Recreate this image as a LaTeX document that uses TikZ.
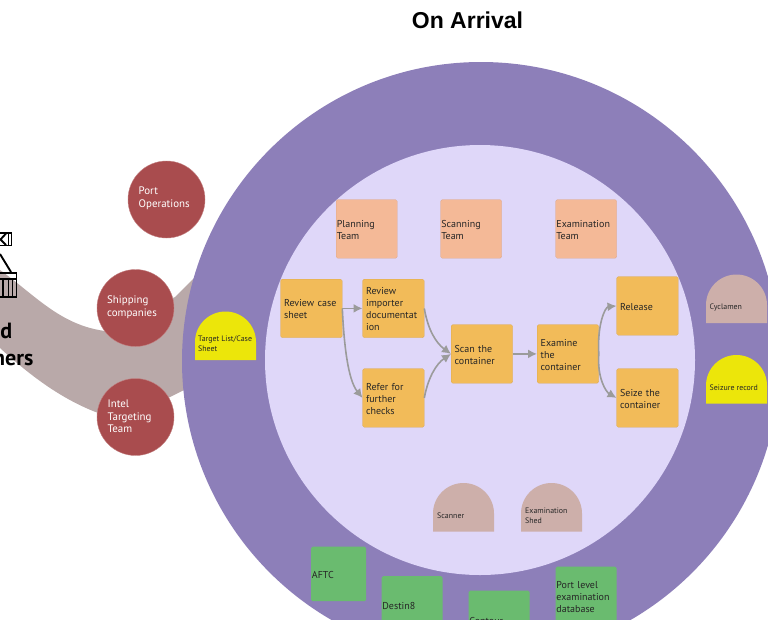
\documentclass[tikz,border=0pt]{standalone}
\usepackage{fontspec}
\setmainfont{PT Sans}
\newfontfamily\titlefont{Liberation Sans}
\usetikzlibrary{arrows.meta}
\definecolor{outerc}{HTML}{8D7FB9}
\definecolor{innerc}{HTML}{DFD7F9}
\definecolor{teamc}{HTML}{F4B997}
\definecolor{stepc}{HTML}{F2BB59}
\definecolor{greenc}{HTML}{6ABB6F}
\definecolor{redcc}{HTML}{A94C4E}
\definecolor{bandc}{HTML}{B9A9A9}
\definecolor{domec}{HTML}{CDAFAA}
\definecolor{yellowc}{HTML}{ECE60A}
\definecolor{arrowc}{HTML}{9B9B9B}
\newcommand{\domeshape}[3]{% left, top, colour (61 wide, 48.5 high)
  \fill[#3] (#1,#2+48.5) -- (#1,#2+30.5) arc[start angle=180,end angle=360,radius=30.5] -- (#1+61,#2+48.5) -- cycle;}
\begin{document}
\begin{tikzpicture}[x=1pt,y=-1pt,
  boxtext/.style={font=\fontsize{10}{12}\selectfont,text=black!85,align=left,anchor=north west,minimum width=61pt,minimum height=58.5pt,text width=54.5pt,inner xsep=3.5pt,inner ysep=0pt,rounded corners=1.5pt,execute at begin node={\rule{0pt}{8.8pt}}},
  teambox/.style={boxtext,fill=teamc,draw=teamc!90!black,line width=.3pt,text width=59.5pt,inner xsep=.75pt},
  stepbox/.style={boxtext,fill=stepc,draw=stepc!90!black,line width=.3pt},
  greenbox/.style={boxtext,fill=greenc,text width=59.5pt,inner xsep=.5pt},
  redcirc/.style={circle,fill=redcc,draw=redcc!70!white,line width=.4pt,minimum size=77pt,inner sep=0pt},
  wt/.style={text=white,font=\fontsize{10.9}{12.6}\selectfont,align=left,anchor=west,inner sep=0pt},
  small/.style={text=black!85,font=\fontsize{7.9}{9.6}\selectfont,align=left,anchor=west,inner sep=0pt},
  flow/.style={draw=arrowc,line width=1.6pt,-{Latex[length=9pt,width=9pt]}},
  bigtext/.style={font=\fontsize{22}{26}\selectfont\bfseries,text=black,anchor=east,inner sep=0pt},
  iconline/.style={draw=black,line width=1.9pt}
]
\useasboundingbox (0,0) rectangle (768,619);
\begin{scope}
\clip (0,0) rectangle (768,619);
% band
\fill[bandc] (0,270) .. controls (35,295) and (60,325) .. (105,331)
  -- (175,297) -- (200,272) -- (200,382) -- (170,397) -- (125,421)
  .. controls (75,410) and (35,380) .. (0,348) -- cycle;
\node[circle,fill=outerc,minimum size=598pt,inner sep=0pt] (outer) at (481,361) {};
\node[circle,fill=innerc,minimum size=430pt,inner sep=0pt] (inner) at (480,360) {};

% title
\node[font=\titlefont\bfseries\fontsize{23}{27}\selectfont,inner sep=0pt] (title) at (467.5,20) {On Arrival};

% partial labels on the left
\node[bigtext] (lblA) at (12.5,331) {d};
\node[bigtext] (lblB) at (33.5,360) {ners};

% icon
\draw[iconline] (-2,233) rectangle (11.5,245.5);
\draw[iconline] (6,233.5) -- (0.5,239.5) -- (6,245);
\draw[iconline] (8.5,233) -- (8.5,245.5);
\draw[iconline] (0,254) -- (11,272);
\draw[iconline] (-2,273) rectangle (16.5,297);
\draw[iconline] (-2,279) -- (16.5,279);
\draw[iconline] (3,279) -- (3,297);
\draw[iconline] (8.5,279) -- (8.5,297);
\draw[iconline] (12.5,279) -- (12.5,297);

% red circles
\node[redcirc] (port) at (166.5,199.5) {};
\node[redcirc] (ship) at (135.5,308) {};
\node[redcirc] (intel) at (135.5,417) {};
\node[wt] (portT) at (138.5,198.5) {Port\\Operations};
\node[wt] (shipT) at (107,307.5) {Shipping\\companies};
\node[wt] (intelT) at (107.5,416.5) {Intel\\Targeting\\Team};

% domes
\domeshape{195}{311.5}{yellowc}
\node[small] (targetT) at (198,344) {Target List/Case\\Sheet};
\domeshape{706}{274.5}{domec}
\node[small] (cyclT) at (709.5,307.5) {Cyclamen};
\domeshape{706}{355}{yellowc}
\node[small] (seizT) at (709.5,387.5) {Seizure record};
\domeshape{433}{483}{domec}
\node[small] (scanT) at (437,516) {Scanner};
\domeshape{521}{483}{domec}
\node[small] (shedT) at (525,515.5) {Examination\\Shed};

% team boxes
\node[teambox] (plan) at (336,199.5) {Planning\\Team};
\node[teambox] (scanteam) at (440.5,199.5) {Scanning\\Team};
\node[teambox] (examteam) at (555.5,199.5) {Examination\\Team};

% step boxes
\node[stepbox] (case) at (280.5,279) {Review case\\sheet};
\node[stepbox] (imp) at (362.5,279) {Review\\importer\\documentat\\ion};
\node[stepbox] (refer) at (362.5,368.5) {Refer for\\further\\checks};
\node[stepbox] (scan) at (451,324.5) {Scan the\\container};
\node[stepbox] (exam) at (537,324.5) {Examine\\the\\container};
\node[stepbox] (rel) at (616.5,276.5) {Release};
\node[stepbox] (seize) at (616.5,368.5) {Seize the\\container};

% green boxes
\node[greenbox,minimum width=55pt,minimum height=54.5pt,text width=53.5pt] (aftc) at (311,546.5) {AFTC};
\node[greenbox] (dest) at (381.5,576) {Destin8};
\node[greenbox] (cont) at (468.5,590.5) {Contour};
\node[greenbox] (pldb) at (555.5,566.5) {Port level\\examination\\database};

% connectors
\draw[flow] (case.east) -- (imp.west);
\draw[flow] (case.east) .. controls (344,345) and (348,380) .. (refer.west);
\draw[flow] (imp.east) .. controls (428,330) and (436,343) .. (scan.west);
\draw[flow] (refer.east) .. controls (428,378) and (436,364) .. (scan.west);
\draw[flow] (scan.east) -- (exam.west);
\draw[flow] (exam.east) .. controls (597,325) and (605,307) .. (rel.west);
\draw[flow] (exam.east) .. controls (597,378) and (606,392) .. (seize.west);
\end{scope}
\end{tikzpicture}
\end{document}
